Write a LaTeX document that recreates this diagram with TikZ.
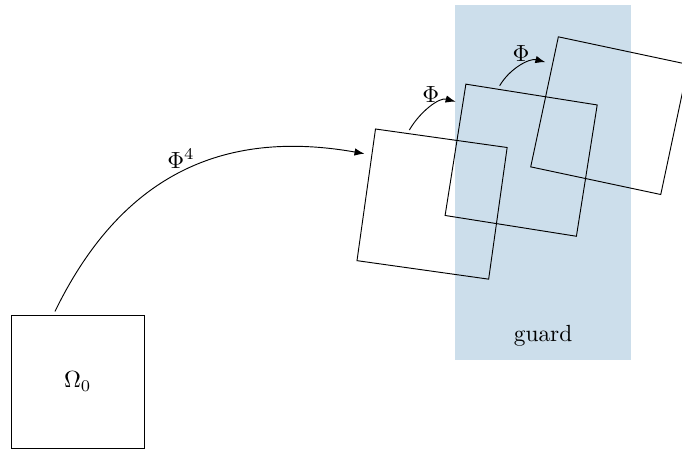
\documentclass[tikz,border=0pt]{standalone}
\usepackage{amsmath,amssymb}
\usepackage{xcolor}
\usepackage{tikz}
\usetikzlibrary{arrows.meta,positioning,backgrounds}
\definecolor{guardblue}{RGB}{204,222,235}
\definecolor{ink}{RGB}{0,0,0}

\begin{document}
\begin{tikzpicture}[
  sq/.style={draw=ink, minimum size=2cm, inner sep=0pt},
  arr/.style={-{Latex[length=1.5mm]}, ink, shorten <=1.5pt, shorten >=3pt},
  lbl/.style={above, inner sep=2pt},
]
\useasboundingbox (-1.17,-1.03) rectangle (9.09,5.74);
% guard region
\fill[guardblue] (5.67,0.33) rectangle (8.33,5.67);
\node (guard) at (7,0.69) {guard};
% squares
\node[sq] (om) at (0,0) {$\Omega_0$};
\node[sq, rotate=-8] (s1) at (5.33,2.67) {};
\node[sq, rotate=-9] (s2) at (6.67,3.33) {};
\node[sq, rotate=-12] (s3) at (8,4) {};
% maps
\draw[arr] (om.110) to[out=64, in=170, looseness=1.1]
  node[lbl, pos=0.5] (phi4) {$\Phi^4$} (s1.149);
\draw[arr] (s1.117) to[out=60, in=165]
  node[lbl, midway] (phi1) {$\Phi$} (s2.145);
\draw[arr] (s2.117) to[out=60, in=165]
  node[lbl, midway] (phi2) {$\Phi$} (s3.150);
\end{tikzpicture}
\end{document}
